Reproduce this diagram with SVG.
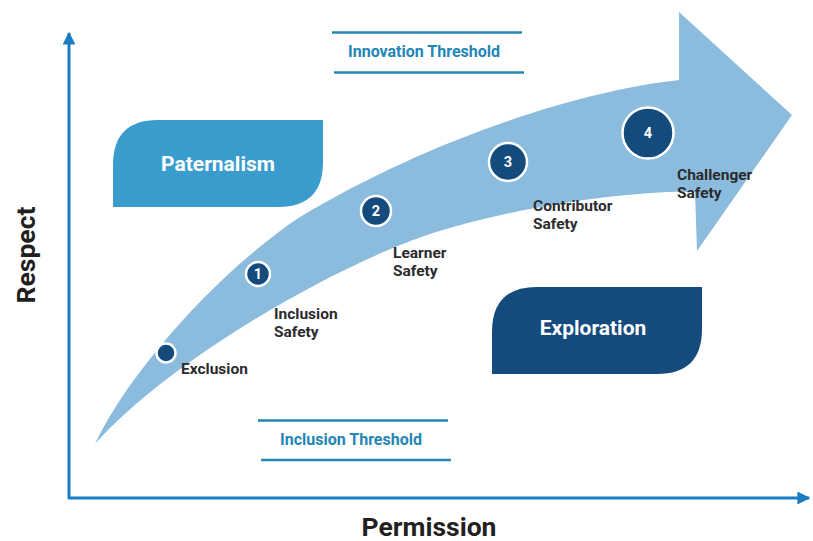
<svg xmlns="http://www.w3.org/2000/svg" width="813" height="541" viewBox="0 0 813 541">
  <defs>
    <marker id="axisHead" viewBox="0 0 10 10" refX="9" refY="5" markerWidth="4.3" markerHeight="4.3" markerUnits="strokeWidth" orient="auto">
      <path d="M0,0 L10,5 L0,10 Z" fill="#1a7cc1"/>
    </marker>
    <style>
      text { font-family: Roboto, "Liberation Sans", Arial, sans-serif; font-weight: 700; }
      .axis { stroke: #1a7cc1; stroke-width: 3; fill: none; }
      .axis-label { font-size: 26.5px; fill: #231f20; }
      .stage { font-size: 15.5px; fill: #2b2b2e; }
      .box-label { font-size: 21px; fill: #ffffff; text-anchor: middle; }
      .threshold-line { stroke: #2386b6; stroke-width: 2.6; }
      .threshold-text { font-size: 16px; fill: #2386b6; text-anchor: middle; }
      .dot { fill: #144a7c; stroke: #ffffff; stroke-width: 2.5; }
      .num { fill: #ffffff; text-anchor: middle; font-size: 14.5px; }
    </style>
  </defs>

  <rect width="813" height="541" fill="#ffffff"/>

  <!-- axes -->
  <g id="connectors">
    <line class="axis" x1="69" y1="499" x2="69" y2="33" marker-end="url(#axisHead)"/>
    <line class="axis" x1="68" y1="498" x2="809" y2="498" marker-end="url(#axisHead)"/>
  </g>
  <text class="axis-label" x="429" y="536" text-anchor="middle">Permission</text>
  <text class="axis-label" transform="translate(35,255) rotate(-90)" text-anchor="middle">Respect</text>

  <!-- growth arrow -->
  <g id="growth-arrow">
    <path fill="#8bbcde" d="M95,444 C130,370 220,270 300,217 C420,145 570,92 679,80 L679,12 L792,115 L697,251 L695,192 C640,190 520,205 433,233 C335,265 170,360 95,444 Z"/>
  </g>

  <!-- quadrant boxes -->
  <g id="paternalism">
    <path fill="#3a9ccd" d="M158,120 L323,120 L323,162 Q323,207 278,207 L113,207 L113,165 Q113,120 158,120 Z"/>
    <text class="box-label" x="218" y="171">Paternalism</text>
  </g>
  <g id="exploration">
    <path fill="#144a7c" d="M537,287 L702,287 L702,329 Q702,374 657,374 L492,374 L492,332 Q492,287 537,287 Z"/>
    <text class="box-label" x="593" y="335">Exploration</text>
  </g>

  <!-- thresholds -->
  <g id="innovation-threshold">
    <line class="threshold-line" x1="332" y1="32.5" x2="522" y2="32.5"/>
    <line class="threshold-line" x1="334" y1="72.5" x2="524" y2="72.5"/>
    <text class="threshold-text" x="424" y="57">Innovation Threshold</text>
  </g>
  <g id="inclusion-threshold">
    <line class="threshold-line" x1="258" y1="420.5" x2="448" y2="420.5"/>
    <line class="threshold-line" x1="261" y1="460" x2="451" y2="460"/>
    <text class="threshold-text" x="351" y="445">Inclusion Threshold</text>
  </g>

  <!-- stages -->
  <g id="exclusion">
    <circle class="dot" cx="166" cy="353" r="9.5"/>
    <text class="stage" x="181" y="374">Exclusion</text>
  </g>
  <g id="inclusion-safety">
    <circle class="dot" cx="258" cy="274" r="12"/>
    <text class="num" x="258" y="279">1</text>
    <text class="stage" x="274" y="319">Inclusion</text>
    <text class="stage" x="274" y="337">Safety</text>
  </g>
  <g id="learner-safety">
    <circle class="dot" cx="376" cy="211" r="15"/>
    <text class="num" x="376" y="216">2</text>
    <text class="stage" x="393" y="258">Learner</text>
    <text class="stage" x="393" y="276">Safety</text>
  </g>
  <g id="contributor-safety">
    <circle class="dot" cx="508" cy="162" r="19"/>
    <text class="num" x="508" y="167">3</text>
    <text class="stage" x="533" y="211">Contributor</text>
    <text class="stage" x="533" y="229">Safety</text>
  </g>
  <g id="challenger-safety">
    <circle class="dot" cx="648" cy="133" r="25.5"/>
    <text class="num" x="648" y="138">4</text>
    <text class="stage" x="677" y="180">Challenger</text>
    <text class="stage" x="677" y="198">Safety</text>
  </g>
</svg>
